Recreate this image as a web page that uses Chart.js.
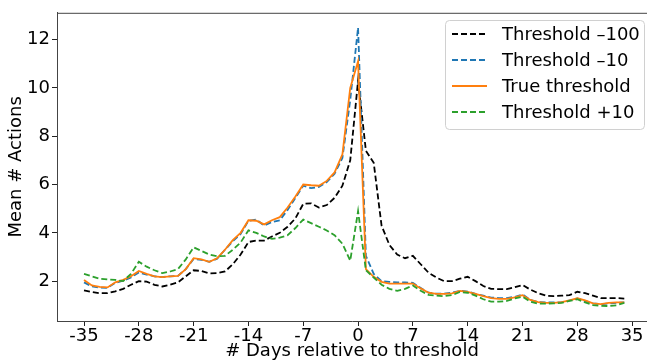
<!DOCTYPE html>
<html>
<head>
<meta charset="UTF-8">
<script src="https://cdn.jsdelivr.net/npm/chart.js"></script>
<style>
  html, body { margin: 0; padding: 0; background: #fff; overflow: hidden; }
  #wrap { width: 647px; height: 362px; }
</style>
</head>
<body>
<div id="wrap"><canvas id="myChart"></canvas></div>
<script>
// days relative to threshold
var days = [-35, -34, -33, -32, -31, -30, -29, -28, -27, -26, -25, -24, -23, -22, -21, -20, -19, -18,
            -17, -16, -15, -14, -13, -12, -11, -10, -9, -8, -7, -6, -5, -4, -3, -2, -1, 0,
            1, 2, 3, 4, 5, 6, 7, 8, 9, 10, 11, 12, 13, 14, 15, 16, 17, 18, 19, 20, 21, 22,
            23, 24, 25, 26, 27, 28, 29, 30, 31, 32, 33, 34];

var thresholdMinus100 = [1.62, 1.55, 1.5, 1.5, 1.58, 1.68, 1.85, 2.0, 1.98, 1.85, 1.78, 1.85, 1.95, 2.2, 2.45, 2.42, 2.32, 2.33,
                         2.4, 2.7, 3.1, 3.62, 3.68, 3.68, 3.85, 4.0, 4.25, 4.6, 5.2, 5.22, 5.05, 5.15, 5.45, 5.95, 7.0, 10.3,
                         7.4, 6.9, 4.3, 3.5, 3.1, 2.95, 3.05, 2.7, 2.35, 2.15, 2.0, 2.0, 2.1, 2.18, 2.0, 1.8, 1.68, 1.67, 1.67, 1.75, 1.84, 1.65,
                         1.5, 1.4, 1.38, 1.4, 1.42, 1.56, 1.5, 1.4, 1.3, 1.3, 1.3, 1.28];

var thresholdMinus10 = [1.95, 1.78, 1.73, 1.72, 1.93, 2.02, 2.15, 2.36, 2.27, 2.2, 2.17, 2.2, 2.22, 2.5, 2.92, 2.88, 2.8, 2.93,
                        3.3, 3.65, 3.95, 4.5, 4.55, 4.3, 4.45, 4.52, 4.95, 5.45, 5.95, 5.85, 5.9, 6.1, 6.45, 7.1, 9.5, 12.5,
                        3.05, 2.3, 2.0, 1.97, 1.95, 1.95, 1.93, 1.72, 1.52, 1.48, 1.48, 1.52, 1.6, 1.57, 1.47, 1.4, 1.32, 1.3, 1.3, 1.35, 1.45, 1.22,
                        1.13, 1.12, 1.12, 1.13, 1.2, 1.28, 1.18, 1.08, 1.05, 1.07, 1.1, 1.12];

var trueThreshold = [2.05, 1.82, 1.76, 1.74, 1.95, 2.05, 2.2, 2.42, 2.3, 2.2, 2.17, 2.2, 2.22, 2.5, 2.95, 2.9, 2.8, 2.95,
                     3.3, 3.7, 4.0, 4.52, 4.5, 4.35, 4.52, 4.65, 5.05, 5.5, 6.0, 5.97, 5.95, 6.15, 6.5, 7.25, 10.0, 11.1,
                     2.5, 2.18, 1.97, 1.9, 1.9, 1.9, 1.9, 1.7, 1.52, 1.47, 1.47, 1.49, 1.6, 1.56, 1.47, 1.38, 1.3, 1.27, 1.27, 1.33, 1.42, 1.22,
                     1.13, 1.1, 1.1, 1.13, 1.2, 1.29, 1.2, 1.08, 1.05, 1.1, 1.12, 1.12];

var thresholdPlus10 = [2.3, 2.2, 2.1, 2.07, 2.05, 2.0, 2.3, 2.8, 2.6, 2.45, 2.33, 2.4, 2.5, 2.9, 3.4, 3.25, 3.1, 3.03,
                       3.05, 3.3, 3.6, 4.1, 4.0, 3.85, 3.75, 3.8, 3.9, 4.2, 4.55, 4.4, 4.25, 4.1, 3.9, 3.55, 2.85, 4.9,
                       2.45, 2.15, 1.85, 1.68, 1.6, 1.68, 1.82, 1.6, 1.43, 1.4, 1.38, 1.42, 1.55, 1.52, 1.4, 1.25, 1.15, 1.15, 1.18, 1.28, 1.36, 1.15,
                       1.07, 1.07, 1.08, 1.1, 1.18, 1.25, 1.12, 1.01, 0.98, 0.97, 1.0, 1.1];

var xTicks = [-35, -28, -21, -14, -7, 0, 7, 14, 21, 28, 35];
var yTicks = [2, 4, 6, 8, 10, 12];

var seriesNames = ['Threshold \u2013100', 'Threshold \u201310', 'True threshold', 'Threshold +10'];
var seriesColors = ['#000000', '#1f77b4', '#ff7f0e', '#2ca02c'];
var seriesDash = [[6, 3], [6, 3], [], [6, 3]];
var seriesValues = [thresholdMinus100, thresholdMinus10, trueThreshold, thresholdPlus10];

var FONT = "'DejaVu Sans', sans-serif";

function toPoints(vals) {
    return vals.map(function (v, i) { return {x: days[i], y: v}; });
}

var datasets = [];
for (var s = 0; s < seriesNames.length; s++) {
    datasets.push({
        label: seriesNames[s],
        data: toPoints(seriesValues[s]),
        borderColor: seriesColors[s],
        backgroundColor: seriesColors[s],
        borderDash: seriesDash[s],
        borderWidth: 1.8,
        pointRadius: 0,
        tension: 0,
        fill: false,
        order: seriesNames.length - s
    });
}

// top spine + legend box inside the plot
var extras = {
    id: 'extras',
    afterDraw: function (chart) {
        var ctx = chart.ctx;
        var a = chart.chartArea;
        ctx.save();
        ctx.strokeStyle = '#444';
        ctx.lineWidth = 1;
        ctx.beginPath();
        ctx.moveTo(a.left, a.top + 0.5);
        ctx.lineTo(a.right, a.top + 0.5);
        ctx.stroke();

        var bx = 445, by = 20, bw = 199, bh = 109, r = 4;
        ctx.fillStyle = 'rgba(255,255,255,0.85)';
        ctx.strokeStyle = '#d0d0d0';
        ctx.lineWidth = 1;
        ctx.beginPath();
        ctx.roundRect(bx + 0.5, by + 0.5, bw, bh, r);
        ctx.fill();
        ctx.stroke();

        ctx.font = '18px ' + FONT;
        ctx.textBaseline = 'middle';
        ctx.textAlign = 'left';
        for (var i = 0; i < seriesNames.length; i++) {
            var yy = 34 + i * 26;
            ctx.strokeStyle = seriesColors[i];
            ctx.lineWidth = 1.8;
            ctx.setLineDash(seriesDash[i]);
            ctx.beginPath();
            ctx.moveTo(452, yy);
            ctx.lineTo(487, yy);
            ctx.stroke();
            ctx.setLineDash([]);
            ctx.fillStyle = '#000';
            ctx.fillText(seriesNames[i], 502, yy + 1);
        }
        ctx.restore();
    }
};

new Chart(document.getElementById('myChart'), {
    type: 'line',
    data: { datasets: datasets },
    options: {
        responsive: true,
        maintainAspectRatio: false,
        animation: false,
        layout: { padding: { top: 11, left: 0, right: 0, bottom: 0 } },
        plugins: {
            legend: { display: false },
            tooltip: { enabled: false }
        },
        scales: {
            x: {
                type: 'linear',
                min: -38.45,
                max: 36.9,
                afterFit: function (scale) { scale.height = 41; },
                afterBuildTicks: function (scale) {
                    scale.ticks = xTicks.map(function (v) { return {value: v}; });
                },
                grid: { drawOnChartArea: false, drawTicks: true, tickLength: 5, tickColor: '#222' },
                border: { color: '#444', width: 1 },
                ticks: { color: '#000', font: { size: 18, family: FONT }, padding: 0, maxRotation: 0, autoSkip: false },
                title: { display: true, text: '# Days relative to threshold', color: '#000',
                         font: { size: 18, family: FONT }, padding: { top: 0, bottom: 0 } }
            },
            y: {
                min: 0.35,
                max: 13.11,
                afterFit: function (scale) { scale.width = 57; },
                afterBuildTicks: function (scale) {
                    scale.ticks = yTicks.map(function (v) { return {value: v}; });
                },
                grid: { drawOnChartArea: false, drawTicks: true, tickLength: 5, tickColor: '#222' },
                border: { color: '#444', width: 1 },
                ticks: { color: '#000', font: { size: 18, family: FONT }, padding: 2 },
                title: { display: true, text: 'Mean # Actions', color: '#000',
                         font: { size: 18, family: FONT }, padding: { top: 6, bottom: 0 } }
            }
        }
    },
    plugins: [extras]
});
</script>
</body>
</html>
